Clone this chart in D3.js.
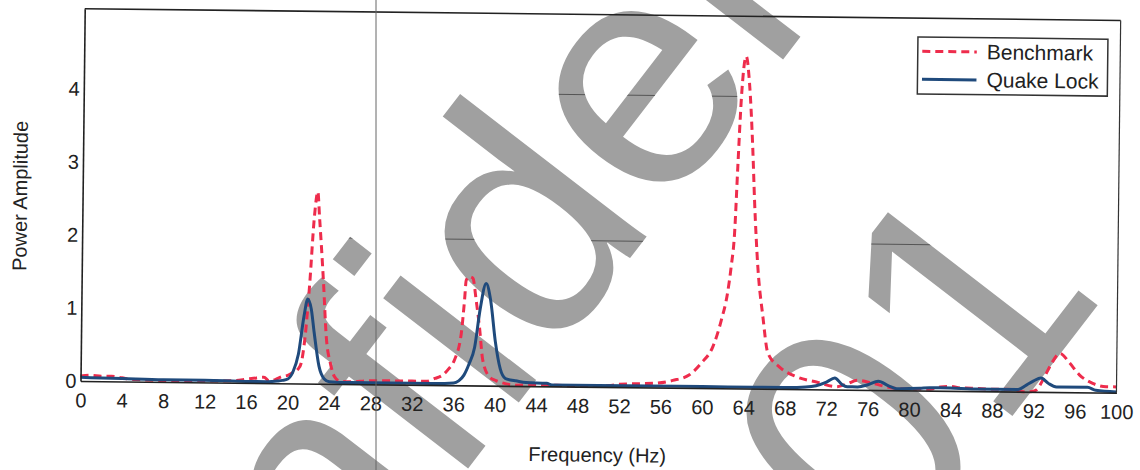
<!DOCTYPE html>
<html><head><meta charset="utf-8">
<script src="https://cdn.jsdelivr.net/npm/d3@7"></script>
<style>
html,body{margin:0;padding:0;background:#fff;}
svg{display:block;}
</style></head><body>
<svg id="chart" width="1140" height="470"></svg>
<script>
// ---------- data ----------
const freqTicks = [0,4,8,12,16,20,24,28,32,36,40,44,48,52,56,60,64,68,72,76,80,84,88,92,96,100];
const ampTicks = [0,1,2,3,4];
const gridValues = [2,4];
const seriesNames = ["Benchmark","Quake Lock"];
const xTitle = "Frequency (Hz)";
const yTitle = "Power Amplitude";
const watermarkLines = ["Confidential","01"];

const benchmarkFreq = [0,1,2,3,4,5,8,12,15,16,17,17.7,18.2,18.8,19.4,20,20.5,21,21.28,21.6,22,22.4,22.7,22.89,23.35,23.67,24.1,24.5,25,26,28,30,32,33.37,34.2,34.97,35.5,36.08,36.7,36.98,37.12,37.43,37.76,38.1,38.45,38.8,39.47,40.1,41,42,44,48,51,52,54,55.57,57.17,58.77,59.89,61,61.78,62.36,62.68,62.97,63.21,63.47,63.9,64.25,64.64,64.86,65.25,65.79,66.31,67.46,69.1,71.03,72.96,74,74.97,76.5,78.4,80,82,83,84,85,86,88,90,91,91.6,92.2,93.05,93.7,94.5,95.45,96.4,97.7,99,100];
const benchmarkAmp = [0.07,0.08,0.07,0.07,0.05,0.03,0.02,0.02,0.03,0.05,0.07,0.08,0.03,0.05,0.09,0.11,0.15,0.2,0.28,0.6,1.33,2.29,2.63,2.29,1.38,0.65,0.28,0.1,0.04,0.03,0.05,0.05,0.05,0.05,0.09,0.14,0.22,0.35,0.71,1.17,1.44,1.49,1.47,1.17,0.8,0.35,0.12,0.07,0.03,0.01,0.02,0.01,0.02,0.04,0.05,0.06,0.1,0.18,0.34,0.57,0.93,1.31,1.67,2.13,3.04,3.95,4.55,4.18,3.27,2.58,1.67,0.99,0.49,0.3,0.17,0.1,0.04,0.08,0.13,0.09,0.03,0.02,0.02,0.05,0.06,0.04,0.04,0.03,0.03,0.0,0.0,0.02,0.21,0.39,0.53,0.4,0.24,0.125,0.08,0.08];

const quakeLockFreq = [0,2,4,8,12,16,18,19,19.5,20,20.5,21,21.5,21.85,22.2,22.5,23,23.5,24,26,30,34,36,36.5,37,37.5,38,38.5,39.05,39.5,40,40.5,41,41.5,42,43,45,45.5,50,55,60,65,68,70,71,72,72.8,73.5,74,75,76,77,78,78.8,81,82,84,86,90.5,91.3,92,92.7,93.4,94.2,97.2,98,100];
const quakeLockAmp = [0.05,0.045,0.04,0.03,0.03,0.02,0.02,0.03,0.04,0.06,0.16,0.4,0.92,1.16,1.02,0.7,0.24,0.07,0.03,0.02,0.02,0.02,0.03,0.06,0.14,0.3,0.52,1.05,1.4,1.17,0.6,0.23,0.1,0.08,0.07,0.05,0.04,0.02,0.02,0.02,0.02,0.02,0.02,0.03,0.05,0.1,0.16,0.07,0.04,0.04,0.07,0.12,0.06,0.02,0.03,0.04,0.04,0.03,0.03,0.09,0.15,0.19,0.12,0.07,0.07,0.03,0.01];

// ---------- layout ----------
const FONT = '"Liberation Sans", Arial, sans-serif';
const svg = d3.select("#chart");
const plotLeft = 80.5, plotRight = 1116.5, plotBottom = 381, unit = 73, yMax = 5.1;
const x = d3.scaleLinear().domain([0,100]).range([plotLeft,plotRight]);
const y = d3.scaleLinear().domain([0,yMax]).range([plotBottom, plotBottom - unit*yMax]);
const plotTop = y(yMax);
const rot = `rotate(0.65,${plotLeft},${plotBottom})`;
const wmTransforms = ["translate(88,962) rotate(-52.4)", "translate(93,951) rotate(-52.4) translate(780,402)"];

function addWatermarkTexts(parent){
  watermarkLines.forEach((s,i)=>{
    parent.append("text").attr("transform",wmTransforms[i])
      .attr("font-family",FONT).attr("font-size",324).text(s);
  });
}
const defs = svg.append("defs");
addWatermarkTexts(defs.append("clipPath").attr("id","wmClip"));

svg.append("rect").attr("width",1140).attr("height",470).attr("fill","#fff");
addWatermarkTexts(svg.append("g").attr("fill","#a0a0a0"));

// gridlines: only visible where they cross the watermark
svg.append("g").attr("clip-path","url(#wmClip)")
  .append("g").attr("transform",rot)
  .selectAll("line").data(gridValues).join("line")
  .attr("x1",plotLeft).attr("x2",plotRight)
  .attr("y1",d=>y(d)).attr("y2",d=>y(d))
  .attr("stroke","#555").attr("stroke-width",1);

const g = svg.append("g").attr("transform",rot);

// series
const lineGen = d3.line().x(d=>x(d[0])).y(d=>y(d[1])).curve(d3.curveMonotoneX);
g.append("path").datum(d3.zip(benchmarkFreq,benchmarkAmp))
  .attr("d",lineGen).attr("fill","none").attr("stroke","#ee2c4c")
  .attr("stroke-width",3).attr("stroke-dasharray","8,5");
g.append("path").datum(d3.zip(quakeLockFreq,quakeLockAmp))
  .attr("d",lineGen).attr("fill","none").attr("stroke","#1f4a7c")
  .attr("stroke-width",3).attr("stroke-linejoin","round");

// frame (top/right)
g.append("line").attr("x1",plotLeft).attr("x2",plotRight).attr("y1",plotTop).attr("y2",plotTop).attr("stroke","#222").attr("stroke-width",1.6);
g.append("line").attr("x1",plotRight).attr("x2",plotRight).attr("y1",plotTop).attr("y2",plotBottom).attr("stroke","#333").attr("stroke-width",1.2);

// axes
const xAxis = g.append("g").attr("transform",`translate(0,${plotBottom})`)
  .call(d3.axisBottom(x).tickValues(freqTicks).tickSize(0).tickSizeOuter(0).tickPadding(12).tickFormat(d3.format("d")));
const yAxis = g.append("g").attr("transform",`translate(${plotLeft},0)`)
  .call(d3.axisLeft(y).tickValues(ampTicks).tickSize(0).tickSizeOuter(0).tickPadding(4).tickFormat(d3.format("d")));
[xAxis,yAxis].forEach(a=>{
  a.attr("font-family",FONT).attr("font-size",20);
  a.select(".domain").attr("stroke","#222").attr("stroke-width",1.6);
  a.selectAll("text").attr("fill","#222");
});

// titles
g.append("text").attr("x",598).attr("y",456).attr("text-anchor","middle")
  .attr("font-family",FONT).attr("font-size",20).attr("fill","#222").text(xTitle);
g.append("text").attr("transform","translate(25,196.6) rotate(-90)").attr("text-anchor","middle")
  .attr("font-family",FONT).attr("font-size",20).attr("fill","#222").text(yTitle);

// legend
const lg = g.append("g");
lg.append("rect").attr("x",914).attr("y",27.5).attr("width",190).attr("height",57)
  .attr("fill","#fff").attr("stroke","#333").attr("stroke-width",1.5);
const legItems = [
  {name:seriesNames[0], color:"#ee2c4c", dash:"8,5", cy:41.8},
  {name:seriesNames[1], color:"#1f4a7c", dash:null, cy:69.8}
];
legItems.forEach(it=>{
  lg.append("line").attr("x1",918.5).attr("x2",973).attr("y1",it.cy).attr("y2",it.cy)
    .attr("stroke",it.color).attr("stroke-width",3).attr("stroke-dasharray",it.dash);
  lg.append("text").attr("x",983).attr("y",it.cy+7.3).attr("font-family",FONT).attr("font-size",21)
    .attr("fill","#222").text(it.name);
});

// scan fold line
svg.append("line").attr("x1",376).attr("x2",376).attr("y1",0).attr("y2",470)
  .attr("stroke","#666").attr("stroke-width",1);
</script>
</body></html>
